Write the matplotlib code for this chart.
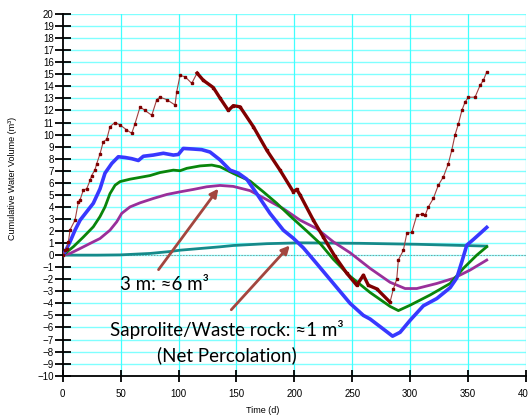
import matplotlib
matplotlib.use('Agg')
import matplotlib.pyplot as plt

# values (day, m3)
red_t = [0, 2, 3.4, 4.9, 6.3, 10.6, 13.5, 15, 17.8, 20.7, 23.6, 25, 27.9, 29.4,
         32.2, 35, 38, 40.8, 45, 49.5, 55, 59.6, 62.4, 66.8, 71, 76.9, 81.2, 84,
         89.8, 97, 98.4, 101.3, 105.6, 111.4, 116, 121.4, 130, 136, 143, 147.3,
         153.1, 164.6, 176.2, 187.6, 199.1, 202, 205, 216.4, 225, 235, 245.2,
         253.9, 259.6, 263.9, 271.2, 282.6, 285.5, 288.4, 289.8, 294.1, 297.1,
         301.4, 305.7, 310, 312.9, 315.7, 320, 324.3, 328.7, 333, 335.9, 338.8,
         341.7, 344.6, 347.4, 350.3, 356, 360.4, 363.2, 366.1]
red_v = [0, 0.4, 0.55, 1.1, 2.1, 2.9, 4.4, 4.6, 5.4, 5.5, 6.2, 6.6, 7.1, 7.6,
         8.4, 9.4, 9.6, 10.65, 11.0, 10.8, 10.4, 10.1, 10.9, 12.3, 12.0, 11.6,
         12.9, 13.1, 12.9, 12.45, 13.55, 14.9, 14.8, 14.25, 15.1, 14.5, 13.9,
         13.0, 12.0, 12.4, 12.3, 10.65, 8.7, 7.05, 5.25, 5.45, 4.98, 2.9, 1.5,
         -0.1, -1.5, -2.5, -1.66, -2.5, -2.8, -3.9, -2.8, -2.0, -0.4, 0.4, 1.8,
         1.9, 3.3, 3.4, 3.3, 4.0, 4.7, 5.8, 6.5, 7.6, 8.7, 10.0, 10.9, 12.0,
         12.7, 13.1, 13.1, 14.1, 14.5, 15.2]

blue_t = [0, 2, 6.3, 10.6, 15, 20.7, 26.4, 32.2, 36.5, 42.3, 48, 53.8, 59.6,
          65.3, 69.6, 78.2, 86.9, 95.5, 99.8, 104.1, 112.8, 120, 127.2, 135.8,
          144.5, 151.6, 158.9, 167.5, 179, 190.5, 199.1, 207.8, 219.3, 233.7,
          248.1, 259.6, 265.4, 275, 284.8, 291.3, 300, 311.4, 323, 334.5,
          340.2, 344.6, 348.9, 354.6, 360.4, 366.1]
blue_v = [0, 0.27, 1.1, 2.07, 2.9, 3.6, 4.3, 5.5, 6.8, 7.6, 8.16, 8.1, 8.0,
          7.85, 8.2, 8.3, 8.45, 8.3, 8.35, 8.85, 8.8, 8.75, 8.55, 7.9, 7.05,
          6.8, 6.3, 5.1, 3.46, 2.07, 1.4, 0.6, -0.7, -2.35, -4.0, -5.0, -5.3,
          -6.0, -6.72, -6.4, -5.4, -4.2, -3.6, -2.7, -1.9, -0.55, 0.83, 1.3,
          1.8, 2.3]

green_t = [0, 2, 9.2, 17.8, 26.4, 32.2, 36.5, 40.8, 45.2, 49.5, 58.1, 66.8,
           75.4, 84, 95.5, 101.3, 107.1, 118.6, 128.7, 135.8, 147.3, 161.7,
           173.2, 184.8, 196.3, 210.7, 222.2, 233.7, 248.1, 265.4, 282.6,
           289.8, 300, 317.3, 334.5, 345.9, 357.5, 366.1]
green_v = [0, 0.14, 0.7, 1.5, 2.35, 3.2, 4.0, 5.1, 5.8, 6.1, 6.3, 6.45, 6.6,
           6.85, 7.05, 7.0, 7.2, 7.4, 7.47, 7.33, 6.78, 6.15, 5.25, 4.3, 3.25,
           2.0, 0.97, -0.35, -1.75, -3.1, -4.25, -4.6, -4.15, -3.3, -2.35,
           -1.1, 0, 0.69]

purple_t = [0, 6.3, 15, 23.6, 32.2, 40.8, 46.6, 50.9, 58.1, 66.8, 78.2, 89.8,
            101.3, 112.8, 124.4, 135.8, 147.3, 161.7, 176.2, 190.5, 205,
            219.3, 233.7, 248.1, 265.4, 282.6, 295.6, 305.7, 323, 337.3,
            351.7, 366.1]
purple_v = [0, 0.14, 0.55, 0.97, 1.38, 2.07, 2.76, 3.46, 4.0, 4.34, 4.7, 5.03,
            5.25, 5.45, 5.67, 5.78, 5.7, 5.35, 4.6, 3.85, 2.9, 2.2, 1.1, 0.2,
            -1.1, -2.25, -2.77, -2.77, -2.35, -1.93, -1.24, -0.41]

teal_t = [0, 30, 49.5, 75.4, 92.7, 101.3, 118.6, 135.8, 147.3, 176.2, 205,
          256.8, 305.7, 366.1]
teal_v = [0, 0, 0.02, 0.14, 0.3, 0.41, 0.55, 0.69, 0.8, 0.95, 1.02, 0.98,
          0.9, 0.75]

plt.rcParams['font.family'] = ['Liberation Sans', 'DejaVu Sans']

fig = plt.figure(figsize=(5.28, 4.18), dpi=100)
ax = fig.add_axes([0.1188, 0.1012, 0.8774, 0.8653])

# grid
for yv in range(-10, 21):
    ax.axhline(yv, color='#80ffff', lw=1.0, zorder=0)
for xv in range(50, 401, 50):
    ax.axvline(xv, color='#40ffff', lw=0.9, zorder=0)
ax.axhline(0, color='#7a9a9a', lw=0.7, ls=(0, (1.5, 1.5)), zorder=1)

ax.plot(teal_t, teal_v, color='#158a8a', lw=2.0, zorder=2)
ax.plot(purple_t, purple_v, color='#9a2f9a', lw=2.0, zorder=3)
ax.plot(green_t, green_v, color='#0a850a', lw=2.0, zorder=4)
ax.plot(blue_t, blue_v, color='#3838ff', lw=2.6, zorder=5)
ax.plot(red_t, red_v, color='#a04040', lw=0.8, marker='s', ms=2.1,
        mfc='#800000', mec='#800000', zorder=6)
# the middle stretch of the red record is drawn as a solid heavy line
i0, i1 = red_t.index(116), red_t.index(282.6)
ax.plot(red_t[i0:i1 + 1], red_v[i0:i1 + 1], color='#800000', lw=2.4,
        zorder=6)

# annotations
txtfont = ['Lato', 'DejaVu Sans']
ax.text(49.5, -2.4, '3 m: \u22486 m\u00b3', fontsize=13.5, family=txtfont,
        va='center', ha='left', zorder=8)
ax.text(40.8, -6.2, 'Saprolite/Waste rock: \u22481 m\u00b3', fontsize=13.5,
        family=txtfont, va='center', ha='left', zorder=8)
ax.text(81.4, -8.3, '(Net Percolation)', fontsize=13.5, family=txtfont,
        va='center', ha='left', zorder=8)
arrowc = '#a3463f'
ax.annotate('', xy=(135.8, 5.7), xytext=(81.3, -1.39),
            arrowprops=dict(arrowstyle='-|>', color=arrowc, lw=2,
                            mutation_scale=12), zorder=9)
ax.annotate('', xy=(197.7, 0.97), xytext=(143.9, -4.7),
            arrowprops=dict(arrowstyle='-|>', color=arrowc, lw=2,
                            mutation_scale=12), zorder=9)

ax.set_xlim(0, 400)
ax.set_ylim(-10, 20)
ax.set_xticks(range(0, 401, 50))
ax.set_yticks(range(-10, 21))
for s in ['top', 'right']:
    ax.spines[s].set_visible(False)
for s in ['left', 'bottom']:
    ax.spines[s].set_linewidth(1.3)
ax.tick_params(axis='y', direction='inout', length=11, width=1.3,
               labelsize=7, pad=1)
ax.tick_params(axis='x', direction='inout', length=9, width=1.3,
               labelsize=7, pad=5)

ax.set_ylabel('Cumulative Water Volume (m\u00b3)', fontsize=6.5)
ax.yaxis.set_label_coords(-0.099, 0.544)
ax.set_xlabel('Time (d)', fontsize=6.5)
ax.xaxis.set_label_coords(0.432, -0.085)

fig.savefig('out.png', dpi=100)
